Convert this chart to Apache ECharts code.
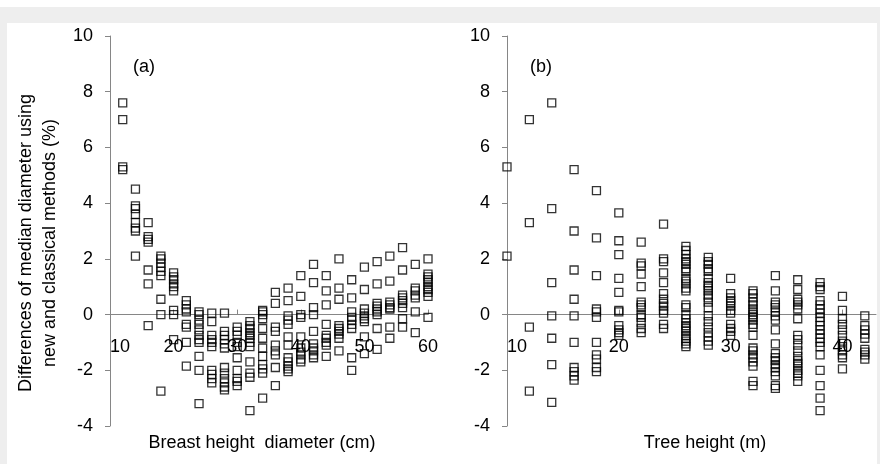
<!DOCTYPE html>
<html>
<head>
<meta charset="utf-8">
<script src="https://cdn.jsdelivr.net/npm/echarts@6/dist/echarts.min.js"></script>
<style>
html,body{margin:0;padding:0;background:#fff;}
#c{width:880px;height:464px;}
</style>
</head>
<body>
<div id="c"></div>
<script>
// Panel (a): breast height diameter (cm) columns and differences (%)
var dbhX = [12,14,16,18,20,22,24,26,28,30,32,34,36,38,40,42,44,46,48,50,52,54,56,58,60];
var dbhY = [
  [7.6,7.0,5.3,5.2],
  [4.5,3.9,3.8,3.6,3.3,3.1,3.0,2.1],
  [3.3,2.8,2.7,2.6,1.6,1.1,-0.4],
  [2.1,2.0,1.85,1.7,1.55,1.4,0.55,0.0,-2.75],
  [1.5,1.35,1.25,1.1,1.0,0.85,0.15,0.0,-0.9],
  [0.5,0.35,0.2,0.1,-0.35,-0.45,-1.0,-1.85],
  [0.1,0.0,-0.2,-0.35,-0.55,-0.75,-0.9,-1.0,-1.5,-2.0,-3.2],
  [0.05,-0.25,-0.75,-0.9,-1.0,-1.15,-2.0,-2.15,-2.3,-2.45],
  [0.05,-0.6,-0.75,-0.9,-1.05,-1.2,-1.9,-2.1,-2.3,-2.45,-2.6,-2.7],
  [-0.45,-0.6,-0.75,-1.0,-1.15,-1.55,-2.0,-2.3,-2.4,-2.55],
  [-0.25,-0.4,-0.5,-0.65,-0.75,-0.85,-1.0,-1.15,-1.7,-2.1,-2.25,-3.45],
  [0.15,0.1,0.0,-0.15,-0.5,-0.85,-1.2,-1.5,-1.8,-1.95,-2.1,-3.0],
  [0.8,0.4,-0.45,-0.6,-1.1,-1.3,-1.45,-1.9,-2.55],
  [0.95,0.5,-0.05,-0.2,-0.35,-0.8,-1.1,-1.55,-1.7,-1.85,-1.95,-2.05],
  [1.4,0.65,0.0,-0.1,-0.8,-1.2,-1.35,-1.45,-1.6,-1.7],
  [1.8,1.15,0.25,0.0,-0.6,-1.05,-1.2,-1.3,-1.45,-1.55],
  [1.4,0.85,0.35,-0.35,-0.75,-0.85,-1.0,-1.1,-1.5],
  [2.0,0.95,0.55,-0.4,-0.5,-0.6,-0.7,-0.85,-1.3],
  [1.25,0.6,0.1,-0.1,-0.2,-0.35,-0.5,-1.55,-2.0],
  [1.7,0.9,0.2,0.05,-0.05,-0.15,-0.25,-0.8,-1.4],
  [1.9,1.1,0.4,0.3,0.2,0.1,0.0,-0.5,-1.25],
  [2.1,1.2,0.45,0.35,0.25,0.2,-0.45,-0.85],
  [2.4,1.6,0.7,0.6,0.5,0.4,0.25,-0.15,-0.45],
  [1.8,0.95,0.85,0.7,0.6,0.1,-0.65],
  [2.0,1.45,1.35,1.25,1.15,1.0,0.9,0.8,0.65,-0.1]
];
// Panel (b): tree height (m) columns and differences (%)
var htX = [10,12,14,16,18,20,22,24,26,28,30,32,34,36,38,40,42];
var htY = [
  [5.3,2.1],
  [7.0,3.3,-0.45,-2.75],
  [7.6,3.8,1.15,-0.05,-0.85,-1.8,-3.15],
  [5.2,3.0,1.6,0.55,-0.05,-1.0,-1.9,-2.05,-2.2,-2.35],
  [4.45,2.75,1.4,0.2,0.1,-0.1,-1.0,-1.45,-1.6,-1.9,-2.05],
  [3.65,2.65,2.15,1.3,0.8,0.15,0.1,-0.4,-0.55,-0.65,-0.75],
  [2.6,1.85,1.75,1.45,1.0,0.45,0.35,0.25,0.0,-0.1,-0.3,-0.5,-0.65],
  [3.25,2.0,1.9,1.5,1.15,0.75,0.55,0.4,0.3,0.15,0.05,-0.35,-0.5],
  [2.45,2.3,2.15,2.0,1.9,1.8,1.65,1.55,1.3,1.2,1.1,0.95,0.85,0.35,0.25,0.0,-0.15,-0.3,-0.4,-0.5,-0.6,-0.75,-0.85,-0.95,-1.05,-1.15],
  [2.05,1.9,1.8,1.65,1.55,1.3,1.15,1.05,0.95,0.85,0.7,0.6,0.45,0.25,-0.05,-0.25,-0.45,-0.65,-0.8,-0.95,-1.1],
  [1.3,0.75,0.6,0.5,0.4,0.3,0.15,0.05,-0.35,-0.5,-0.6,-0.75],
  [0.85,0.75,0.6,0.45,0.35,0.2,0.1,0.0,-0.1,-0.2,-0.35,-0.45,-0.75,-1.2,-1.3,-1.45,-1.55,-1.7,-1.85,-2.4,-2.55],
  [1.4,0.85,0.45,0.35,0.25,0.1,-0.05,-0.2,-0.55,-1.05,-1.4,-1.55,-1.65,-1.8,-1.9,-2.05,-2.2,-2.55,-2.65],
  [1.25,0.9,0.55,0.45,0.35,0.2,-0.15,-0.75,-0.9,-1.1,-1.3,-1.5,-1.65,-1.75,-1.85,-2.0,-2.1,-2.2,-2.4],
  [1.15,1.0,0.9,0.5,0.35,0.2,0.05,-0.1,-0.25,-0.4,-0.55,-0.7,-0.85,-1.0,-1.15,-1.45,-2.0,-2.55,-3.0,-3.45],
  [0.65,0.15,-0.15,-0.35,-0.55,-0.75,-0.95,-1.15,-1.3,-1.45,-1.55,-1.95],
  [-0.05,-0.4,-0.55,-0.7,-0.85,-1.25,-1.35,-1.45,-1.6]
];
var yTicks = [-4,-2,0,2,4,6,8,10];
var dbhTicks = [10,20,30,40,50,60];
var htTicks = [10,20,30,40];
var yTitle = 'Differences of median diameter using\nnew and classical methods (%)';
var xTitleA = 'Breast height  diameter (cm)';
var xTitleB = 'Tree height (m)';

function pairs(xs, ys){
  var out = [];
  for (var i = 0; i < xs.length; i++) {
    for (var j = 0; j < ys[i].length; j++) out.push([xs[i], ys[i][j]]);
  }
  return out;
}

var FONT = 'Liberation Sans, Arial, sans-serif';
var AXC = '#868686';
var GRID_TOP = 36, GRID_H = 390;
var Y_MIN = yTicks[0], Y_MAX = yTicks[yTicks.length - 1];
// move the x axis (line, ticks and labels) up to where y = 0
var ZERO_OFFSET = -GRID_H * (0 - Y_MIN) / (Y_MAX - Y_MIN);

function yAxis(idx){
  return {
    type: 'value', gridIndex: idx, min: Y_MIN, max: Y_MAX, interval: 2,
    axisLine: {show: true, lineStyle: {color: AXC, width: 1}},
    axisTick: {show: true, inside: false, length: 5, lineStyle: {color: AXC}},
    axisLabel: {color: '#000', fontSize: 18, fontFamily: FONT, margin: 17},
    splitLine: {show: false}
  };
}
function xAxis(idx, max, ticks){
  return {
    type: 'value', gridIndex: idx, min: 10, max: max, interval: 10,
    position: 'bottom', offset: ZERO_OFFSET,
    axisLine: {show: true, onZero: false, lineStyle: {color: AXC, width: 1}},
    axisTick: {show: true, inside: true, length: 5, lineStyle: {color: AXC}, customValues: ticks},
    axisLabel: {color: '#000', fontSize: 18, fontFamily: FONT, margin: 23, customValues: ticks, alignMinLabel: 'left'},
    splitLine: {show: false}
  };
}
function scatter(idx, data){
  return {
    type: 'scatter', xAxisIndex: idx, yAxisIndex: idx, data: data,
    symbol: 'rect', symbolSize: 8, silent: true,
    itemStyle: {color: 'rgba(0,0,0,0)', borderColor: '#000', borderWidth: 1.3},
    z: 3
  };
}

var chart = echarts.init(document.getElementById('c'), null, {renderer: 'canvas'});
chart.setOption({
  animation: false,
  backgroundColor: '#ffffff',
  grid: [
    {left: 110, top: GRID_TOP, width: 318, height: GRID_H},
    {left: 507, top: GRID_TOP, width: 369, height: GRID_H}
  ],
  xAxis: [xAxis(0, 60, dbhTicks), xAxis(1, 43, htTicks)],
  yAxis: [yAxis(0), yAxis(1)],
  series: [scatter(0, pairs(dbhX, dbhY)), scatter(1, pairs(htX, htY))],
  graphic: [
    {type: 'rect', z: -10, silent: true, shape: {x: 0, y: 7, width: 880, height: 457}, style: {fill: '#eeeeee'}},
    {type: 'rect', z: -9, silent: true, shape: {x: 7, y: 23, width: 870, height: 441}, style: {fill: '#ffffff'}},
    {type: 'text', x: 38, y: 243, rotation: Math.PI/2, silent: true,
     style: {text: yTitle, fontSize: 18, fontFamily: FONT, fill: '#000', align: 'center', verticalAlign: 'middle', lineHeight: 24}},
    {type: 'text', x: 262, y: 443, silent: true,
     style: {text: xTitleA, fontSize: 18, fontFamily: FONT, fill: '#000', align: 'center', verticalAlign: 'middle'}},
    {type: 'text', x: 705, y: 443, silent: true,
     style: {text: xTitleB, fontSize: 18, fontFamily: FONT, fill: '#000', align: 'center', verticalAlign: 'middle'}},
    {type: 'text', x: 144, y: 67, silent: true,
     style: {text: '(a)', fontSize: 18, fontFamily: FONT, fill: '#000', align: 'center', verticalAlign: 'middle'}},
    {type: 'text', x: 541, y: 67, silent: true,
     style: {text: '(b)', fontSize: 18, fontFamily: FONT, fill: '#000', align: 'center', verticalAlign: 'middle'}}
  ]
});
</script>
</body>
</html>
